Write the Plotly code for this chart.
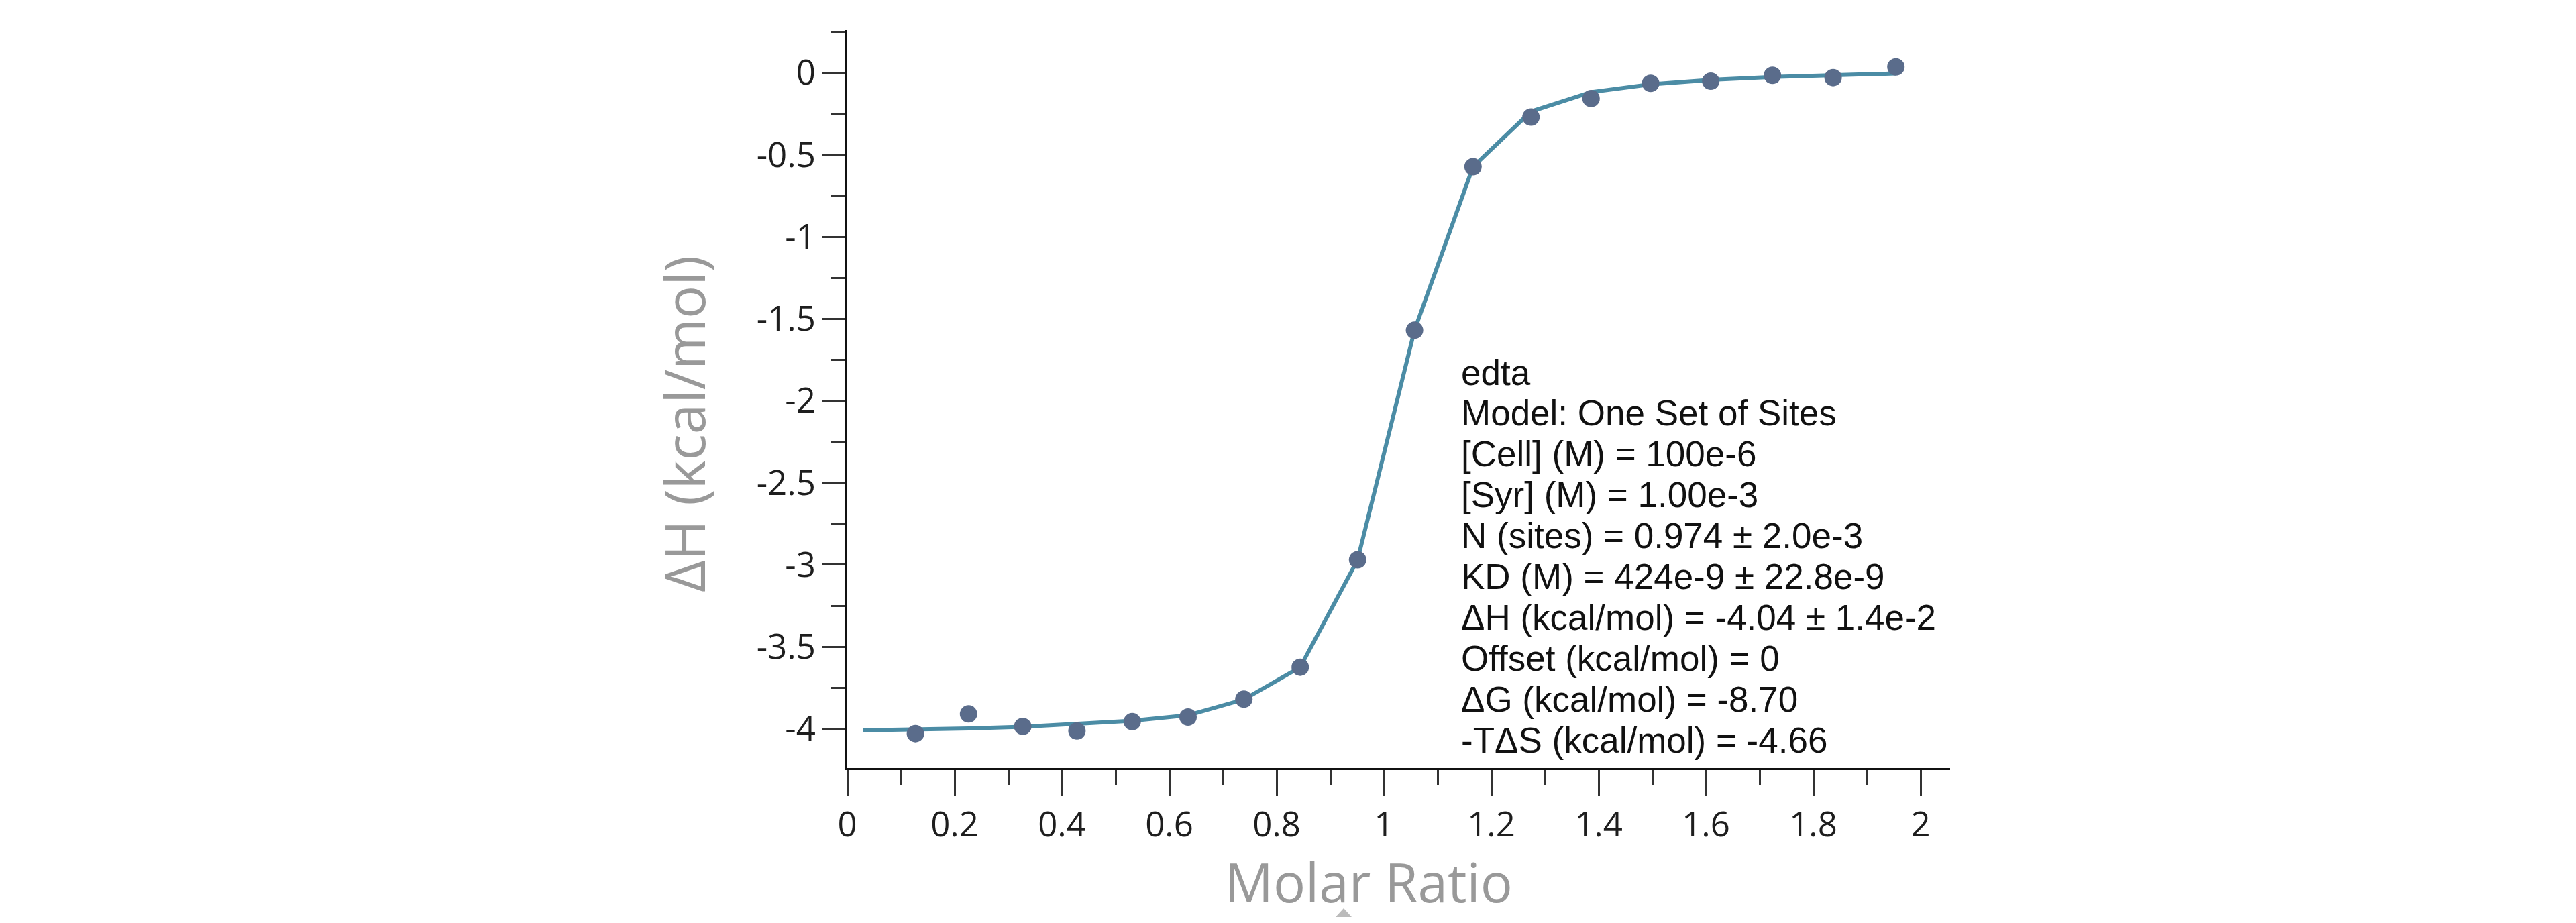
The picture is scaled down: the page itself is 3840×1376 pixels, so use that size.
import plotly.graph_objects as go

# ---- data ----
molar_ratio = [0.127, 0.226, 0.327, 0.428, 0.531, 0.635, 0.739, 0.844, 0.951,
               1.057, 1.166, 1.274, 1.386, 1.497, 1.609, 1.724, 1.837, 1.954]
dH_points = [-4.03, -3.91, -3.986, -4.014, -3.957, -3.929, -3.82, -3.625, -2.97,
             -1.57, -0.573, -0.27, -0.157, -0.064, -0.051, -0.015, -0.029, 0.036]

fit_x = [0.03, 0.127, 0.226, 0.327, 0.428, 0.531, 0.635, 0.739, 0.844, 0.951,
         1.057, 1.166, 1.274, 1.386, 1.497, 1.609, 1.724, 1.837, 1.954]
fit_y = [-4.01, -4.005, -3.999, -3.988, -3.972, -3.952, -3.918, -3.822, -3.625, -2.97,
         -1.57, -0.573, -0.236, -0.118, -0.07, -0.043, -0.025, -0.015, -0.004]

x_tick_vals = [0, 0.2, 0.4, 0.6, 0.8, 1, 1.2, 1.4, 1.6, 1.8, 2]
x_tick_text = ["0", "0.2", "0.4", "0.6", "0.8", "1", "1.2", "1.4", "1.6", "1.8", "2"]
y_tick_vals = [0, -0.5, -1, -1.5, -2, -2.5, -3, -3.5, -4]
y_tick_text = ["0", "-0.5", "-1", "-1.5", "-2", "-2.5", "-3", "-3.5", "-4"]

info_lines = [
    "edta",
    "Model: One Set of Sites",
    "[Cell] (M) = 100e-6",
    "[Syr] (M) = 1.00e-3",
    "N (sites) = 0.974 ± 2.0e-3",
    "KD (M) = 424e-9 ± 22.8e-9",
    "ΔH (kcal/mol) = -4.04 ± 1.4e-2",
    "Offset (kcal/mol) = 0",
    "ΔG (kcal/mol) = -8.70",
    "-TΔS (kcal/mol) = -4.66",
]

# ---- layout geometry (pixels) ----
W, H = 3840, 1376
PL, PR, PT, PB = 1263, 2907, 45, 1145


def px(xp):
    return (xp - PL) / (PR - PL)


def py(yp):
    return 1 - (yp - PT) / (PB - PT)


fig = go.Figure()
fig.add_trace(go.Scatter(
    x=fit_x, y=fit_y, mode="lines",
    line=dict(color="#4b8ca5", width=6),
    showlegend=False, hoverinfo="skip"))
fig.add_trace(go.Scatter(
    x=molar_ratio, y=dH_points, mode="markers",
    marker=dict(color="#5a6c8b", size=26, line=dict(width=0)),
    showlegend=False))

tick_font = dict(family="Open Sans", size=51, color="#1e1e1e")

fig.update_xaxes(
    range=[0, 2.055], showgrid=False, zeroline=False,
    showline=True, linecolor="#111111", linewidth=3,
    tickmode="array", tickvals=x_tick_vals, ticktext=x_tick_text,
    ticks="outside", ticklen=38, tickwidth=3, tickcolor="#333333",
    minor=dict(dtick=0.1, tick0=0, ticks="outside", ticklen=23, tickwidth=3,
               tickcolor="#333333", showgrid=False),
    tickfont=tick_font,
)
fig.update_yaxes(
    range=[-4.24, 0.26], showgrid=False, zeroline=False,
    showline=True, linecolor="#111111", linewidth=3,
    tickmode="array", tickvals=y_tick_vals, ticktext=y_tick_text,
    ticks="outside", ticklen=34, tickwidth=3, tickcolor="#333333",
    minor=dict(dtick=0.25, tick0=0, ticks="outside", ticklen=21, tickwidth=3,
               tickcolor="#333333", showgrid=False),
    tickfont=tick_font,
)

annotations = []
# axis titles
annotations.append(dict(
    text="Molar Ratio", xref="paper", yref="paper",
    x=px(2040), y=py(1313), xanchor="center", yanchor="middle",
    showarrow=False, font=dict(family="Open Sans", size=80, color="#999999")))
annotations.append(dict(
    text="ΔH (kcal/mol)", xref="paper", yref="paper", textangle=-90,
    x=px(1019), y=py(632), xanchor="center", yanchor="middle",
    showarrow=False, font=dict(family="Open Sans", size=82, color="#999999")))

# info text block
first_baseline = 573
spacing = 60.9
for i, line in enumerate(info_lines):
    center = first_baseline + i * spacing - 18
    annotations.append(dict(
        text=line, xref="paper", yref="paper",
        x=px(2176), y=py(center), xanchor="left", yanchor="middle",
        showarrow=False, align="left",
        font=dict(family="Liberation Sans", size=53, color="#111111")))

# small grey triangle under the x-axis title (drawn as a shape)
tri = (f"M {px(1991)} {py(1367)} L {px(2015)} {py(1367)} "
       f"L {px(2003)} {py(1354)} Z")
shapes = [dict(type="path", xref="paper", yref="paper", path=tri,
               fillcolor="#bbbbbb", line=dict(width=0))]

fig.update_layout(
    width=W, height=H, autosize=False,
    margin=dict(l=PL, r=W - PR, t=PT, b=H - PB, pad=0),
    paper_bgcolor="white", plot_bgcolor="white",
    annotations=annotations, shapes=shapes,
    showlegend=False,
)

fig.write_html("out.html")
